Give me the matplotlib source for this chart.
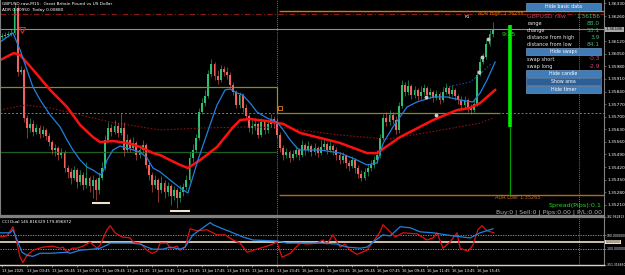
import matplotlib
matplotlib.use("Agg")
import matplotlib.pyplot as plt
from matplotlib.patches import Rectangle

W, H = 625, 275

# GBPUSD.raw M15 bars, 13 Jun 01:45 -> 16 Jun 17:00
first_open = 1.36143
closes = [1.36149, 1.36154, 1.36160, 1.36166, 1.36305, 1.35949, 1.35960, 1.35693, 1.35637, 1.35660,
          1.35615, 1.35637, 1.35604, 1.35626, 1.35593, 1.35559, 1.35515, 1.35526, 1.35487, 1.35504,
          1.35415, 1.35393, 1.35359, 1.35404, 1.35337, 1.35376, 1.35320, 1.35359, 1.35315, 1.35348,
          1.35293, 1.35359, 1.35415, 1.35571, 1.35637, 1.35615, 1.35648, 1.35610, 1.35637, 1.35515,
          1.35571, 1.35526, 1.35554, 1.35487, 1.35515, 1.35543, 1.35432, 1.35376, 1.35320, 1.35348,
          1.35293, 1.35332, 1.35281, 1.35315, 1.35259, 1.35293, 1.35248, 1.35281, 1.35309, 1.35348,
          1.35471, 1.35515, 1.35582, 1.35726, 1.35776, 1.35815, 1.35938, 1.35993, 1.35926, 1.35904,
          1.35965, 1.35949, 1.35932, 1.35876, 1.35837, 1.35765, 1.35821, 1.35749, 1.35704, 1.35637,
          1.35648, 1.35660, 1.35598, 1.35671, 1.35626, 1.35660, 1.35687, 1.35671, 1.35598, 1.35526,
          1.35487, 1.35504, 1.35471, 1.35493, 1.35515, 1.35487, 1.35543, 1.35515, 1.35537, 1.35504,
          1.35526, 1.35498, 1.35532, 1.35548, 1.35515, 1.35537, 1.35515, 1.35487, 1.35459, 1.35482,
          1.35443, 1.35426, 1.35459, 1.35415, 1.35382, 1.35359, 1.35393, 1.35415, 1.35432, 1.35459,
          1.35487, 1.35582, 1.35693, 1.35671, 1.35710, 1.35682, 1.35626, 1.35760, 1.35876, 1.35837,
          1.35871, 1.35821, 1.35849, 1.35815, 1.35837, 1.35860, 1.35821, 1.35837, 1.35804, 1.35826,
          1.35793, 1.35837, 1.35860, 1.35826, 1.35849, 1.35815, 1.35793, 1.35765, 1.35793, 1.35749,
          1.35737, 1.35771, 1.35932, 1.36004, 1.36032, 1.36104, 1.36160, 1.36186]
highs = [1.36166, 1.36171, 1.36177, 1.36188, 1.36332, 1.36321, 1.35982, 1.35971, 1.35710, 1.35693,
         1.35682, 1.35660, 1.35654, 1.35648, 1.35637, 1.35610, 1.35571, 1.35548, 1.35537, 1.35526,
         1.35515, 1.35432, 1.35415, 1.35426, 1.35415, 1.35404, 1.35393, 1.35448, 1.35370, 1.35376,
         1.35359, 1.35393, 1.35448, 1.35598, 1.35671, 1.35660, 1.35682, 1.35665, 1.35721, 1.35671,
         1.35604, 1.35582, 1.35587, 1.35565, 1.35543, 1.35571, 1.35554, 1.35448, 1.35393, 1.35376,
         1.35359, 1.35370, 1.35348, 1.35337, 1.35326, 1.35315, 1.35304, 1.35320, 1.35332, 1.35376,
         1.35504, 1.35548, 1.35604, 1.35749, 1.35804, 1.35849, 1.35960, 1.36021, 1.36004, 1.35960,
         1.35988, 1.35982, 1.35976, 1.35949, 1.35893, 1.35849, 1.35837, 1.35832, 1.35771, 1.35715,
         1.35682, 1.35693, 1.35671, 1.35693, 1.35682, 1.35687, 1.35715, 1.35704, 1.35693, 1.35615,
         1.35543, 1.35526, 1.35515, 1.35515, 1.35537, 1.35526, 1.35571, 1.35554, 1.35565, 1.35548,
         1.35554, 1.35537, 1.35571, 1.35582, 1.35559, 1.35565, 1.35548, 1.35532, 1.35504, 1.35504,
         1.35493, 1.35459, 1.35482, 1.35471, 1.35432, 1.35404, 1.35415, 1.35437, 1.35459, 1.35482,
         1.35515, 1.35604, 1.35715, 1.35726, 1.35737, 1.35726, 1.35704, 1.35782, 1.35904, 1.35893,
         1.35904, 1.35882, 1.35871, 1.35860, 1.35871, 1.35882, 1.35871, 1.35860, 1.35849, 1.35849,
         1.35837, 1.35860, 1.35888, 1.35871, 1.35876, 1.35860, 1.35826, 1.35815, 1.35815, 1.35804,
         1.35771, 1.35793, 1.35960, 1.36027, 1.36054, 1.36127, 1.36182, 1.36225]
lows = [1.36132, 1.36138, 1.36143, 1.36149, 1.36154, 1.35926, 1.35938, 1.35671, 1.35582, 1.35615,
        1.35593, 1.35604, 1.35582, 1.35587, 1.35571, 1.35537, 1.35493, 1.35482, 1.35459, 1.35471,
        1.35393, 1.35359, 1.35326, 1.35348, 1.35304, 1.35320, 1.35293, 1.35304, 1.35281, 1.35248,
        1.35237, 1.35270, 1.35348, 1.35404, 1.35559, 1.35593, 1.35604, 1.35587, 1.35598, 1.35482,
        1.35504, 1.35504, 1.35515, 1.35459, 1.35471, 1.35498, 1.35415, 1.35348, 1.35281, 1.35304,
        1.35226, 1.35276, 1.35248, 1.35259, 1.35209, 1.35237, 1.35193, 1.35226, 1.35259, 1.35293,
        1.35337, 1.35448, 1.35504, 1.35571, 1.35715, 1.35760, 1.35804, 1.35921, 1.35904, 1.35882,
        1.35893, 1.35926, 1.35910, 1.35860, 1.35821, 1.35749, 1.35749, 1.35726, 1.35682, 1.35615,
        1.35604, 1.35626, 1.35582, 1.35587, 1.35604, 1.35610, 1.35643, 1.35637, 1.35582, 1.35504,
        1.35459, 1.35471, 1.35448, 1.35459, 1.35476, 1.35459, 1.35476, 1.35487, 1.35504, 1.35482,
        1.35487, 1.35476, 1.35487, 1.35515, 1.35493, 1.35504, 1.35487, 1.35459, 1.35437, 1.35443,
        1.35415, 1.35398, 1.35415, 1.35387, 1.35359, 1.35345, 1.35348, 1.35370, 1.35398, 1.35415,
        1.35443, 1.35471, 1.35571, 1.35648, 1.35654, 1.35660, 1.35604, 1.35610, 1.35749, 1.35815,
        1.35821, 1.35799, 1.35804, 1.35793, 1.35799, 1.35821, 1.35799, 1.35804, 1.35782, 1.35793,
        1.35771, 1.35782, 1.35826, 1.35804, 1.35815, 1.35793, 1.35771, 1.35737, 1.35749, 1.35726,
        1.35715, 1.35726, 1.35760, 1.35926, 1.35993, 1.36021, 1.36093, 1.36143]
opens = [first_open] + closes[:-1]

# moving averages (bar position, price)
fast_ma_x = [-0.6, 3.5, 5.8, 8.0, 9.9, 12.2, 15.4, 18.6, 20.8, 22.7, 25.0, 27.2, 29.1, 31.4, 32.3,
             33.6, 35.5, 37.8, 40.0, 42.0, 44.2, 46.4, 48.3, 50.6, 53.8, 57.0, 59.5, 62.7, 66.0,
             68.8, 71.4, 73.0, 75.2, 77.0, 79.4, 81.6, 84.8, 88.0, 90.0, 92.2, 94.4, 95.4, 101.8,
             108.2, 113.6, 116.8, 120.0, 122.0, 125.1, 129.6, 132.8, 138.0, 142.4, 146.6, 150.7,
             153.0, 155.2, 157.8]
fast_ma = [1.36115, 1.36166, 1.36071, 1.35960, 1.35865, 1.35793, 1.35710, 1.35643, 1.35571, 1.35515,
           1.35459, 1.35420, 1.35404, 1.35376, 1.35393, 1.35459, 1.35515, 1.35537, 1.35526, 1.35515,
           1.35504, 1.35471, 1.35415, 1.35393, 1.35348, 1.35304, 1.35276, 1.35459, 1.35626, 1.35765,
           1.35849, 1.35854, 1.35832, 1.35821, 1.35776, 1.35726, 1.35693, 1.35671, 1.35626, 1.35571,
           1.35526, 1.35515, 1.35515, 1.35498, 1.35459, 1.35432, 1.35443, 1.35554, 1.35643, 1.35754,
           1.35782, 1.35810, 1.35810, 1.35793, 1.35782, 1.35832, 1.35904, 1.36004]
mid_ma_x = [-0.6, 3.8, 5.8, 10.0, 15.4, 20.8, 25.0, 29.1, 31.4, 35.5, 40.0, 44.2, 48.3, 50.6, 53.8,
            57.0, 59.5, 63.4, 68.8, 74.0, 76.2, 79.4, 84.8, 90.0, 95.4, 108.2, 116.8, 120.0, 127.4,
            138.0, 145.6, 149.8, 153.0, 157.8]
mid_ma = [1.36015, 1.36054, 1.36043, 1.35960, 1.35849, 1.35754, 1.35654, 1.35587, 1.35559, 1.35565,
          1.35554, 1.35532, 1.35498, 1.35487, 1.35459, 1.35432, 1.35415, 1.35459, 1.35532, 1.35643,
          1.35682, 1.35687, 1.35676, 1.35660, 1.35610, 1.35554, 1.35498, 1.35498, 1.35587, 1.35682,
          1.35737, 1.35749, 1.35776, 1.35849]
slow_ma_x = [-0.6, 7.4, 15.4, 25.0, 34.6, 50.6, 63.4, 79.4, 92.2, 95.4, 108.2, 123.2, 137.0, 153.0, 157.1]
slow_ma = [1.35737, 1.35765, 1.35749, 1.35710, 1.35671, 1.35626, 1.35637, 1.35643, 1.35637, 1.35626,
           1.35598, 1.35576, 1.35615, 1.35665, 1.35693]
band_x = [141.1, 149.8, 153.0, 156.8]
band = [1.35860, 1.35893, 1.35938, 1.35999]

# CCI Dual
cci_fast_x = [-0.6, 2.6, 3.5, 4.8, 6.4, 8.0, 9.9, 12.2, 15.4, 20.8, 21.8, 25.0, 29.1, 31.4, 33.6,
              34.6, 41.0, 44.2, 46.4, 48.3, 51.5, 53.8, 57.0, 58.6, 61.1, 63.4, 66.6, 67.5, 69.8,
              73.9, 77.1, 80.3, 88.0, 91.2, 95.4, 101.8, 107.2, 110.4, 114.6, 116.8, 118.7, 121.9,
              124.2, 127.4, 130.6, 133.8, 137.9, 144.3, 149.8, 153.0, 157.1]
cci_fast = [141, 141, 188, 31, -156, -203, -219, -172, -172, -156, -172, -125, -109, -94, -47,
            -16, -16, -31, -78, -109, -109, -78, -109, -78, 109, 188, 297, 266, 219, 141,
            78, 31, 16, -16, -16, -16, -31, -78, -94, -78, 0, 109, 94, 234, 219, 156, 141, 94, 63,
            141, 203]
cci_slow_x = [-0.6, 1.6, 3.5, 4.8, 5.8, 6.7, 8.0, 9.9, 13.1, 16.3, 18.6, 19.5, 20.8, 22.4, 24.0,
              25.9, 28.2, 30.4, 31.4, 33.6, 34.6, 36.2, 38.4, 41.0, 42.0, 44.2, 46.4, 48.0, 49.6,
              50.6, 52.8, 53.8, 56.0, 57.0, 58.6, 60.2, 62.4, 65.6, 68.8, 71.4, 73.9, 76.2, 78.4,
              81.6, 85.8, 88.0, 89.6, 92.2, 95.4, 97.6, 100.8, 102.7, 104.0, 105.9, 108.2, 109.8,
              111.4, 113.6, 116.8, 118.7, 121.0, 121.9, 124.2, 125.8, 128.3, 132.8, 136.0, 137.9,
              139.2, 141.1, 143.4, 145.6, 146.6, 149.1, 150.7, 152.3, 153.6, 155.2, 157.4]
cci_slow = [78, 94, 234, -16, -234, -313, -203, -125, -78, -63, -94, -78, -156, -94, -94, -63, 0,
            -94, -47, 188, 250, 141, 78, 63, 0, -16, -125, -172, -141, -16, -16, -94, -63, -125,
            -78, 203, 172, 188, 109, 109, 31, -16, -156, -109, -47, 0, -234, -172, -16, -31, -16,
            31, -31, 109, -78, -31, -125, -188, -125, 0, 156, 266, 156, 78, 141, 125, 31, 63, 141,
            -94, 0, 141, -94, -141, -47, 188, 250, 172, 141]

# price scale labels (1.36190 sits under the bid box)
price_ticks = [1.35210, 1.35280, 1.35350, 1.35420, 1.35490, 1.35560, 1.35630, 1.35700, 1.35770,
               1.35840, 1.35910, 1.35980, 1.36050, 1.36120, 1.36260, 1.36330]
cci_ticks = [382.96, 100, -100, -351.3]
cci_tick_labels = ["382.962813", "100.000000", "-100.000000", "-351.316850"]
time_ticks = [0, 8, 16, 24, 32, 40, 48, 56, 64, 72, 80, 88, 96, 104, 112, 120, 128, 136, 144, 152]
time_labels = ["13 Jun 2025", "13 Jun 03:45", "13 Jun 05:45", "13 Jun 07:45", "13 Jun 09:45",
               "13 Jun 11:45", "13 Jun 13:45", "13 Jun 15:45", "13 Jun 17:45", "13 Jun 19:45",
               "13 Jun 21:45", "13 Jun 23:45", "16 Jun 01:45", "16 Jun 03:45", "16 Jun 05:45",
               "16 Jun 07:45", "16 Jun 09:45", "16 Jun 11:45", "16 Jun 13:45", "16 Jun 15:45"]

bid = 1.36186
adr_high, adr_low = 1.36288, 1.35265

plt.rcParams['font.family'] = 'DejaVu Sans'
fig = plt.figure(figsize=(W / 100, H / 100), dpi=100, facecolor='black')
ax = fig.add_axes([0, 1 - 216 / H, 604 / W, 216 / H], facecolor='black')
axc = fig.add_axes([0, 1 - 265 / H, 604 / W, 48 / H], facecolor='black')
XL = (-0.64, 192.64)

# ---- main price panel
ax.axhline(1.36271, color='#8b1a1a', lw=0.8, ls=(0, (5, 2, 1, 2)))
ax.axhline(bid, color='#8c8c8c', lw=0.8)
ax.hlines(adr_high, 88.5, XL[1], color='#e07800', lw=1.0)
ax.hlines(adr_low, 88.5, XL[1], color='#b86a10', lw=1.0)
ax.axhline(1.35721, color='#8a8a1a', lw=0.7, ls=(0, (2, 2)))
ax.hlines(1.35865, XL[0], 88, color='#8a8a1a', lw=0.9)
ax.vlines(88, 1.35721, 1.35865, color='#8a8a1a', lw=0.9)
ax.hlines(1.35721, 88, 159.5, color='#8a8a1a', lw=0.9)
ax.hlines(1.35504, XL[0], 88, color='#1f5f1f', lw=0.9)
for a in (ax, axc):
    a.axvline(88, color='#9a9a9a', lw=0.6, ls=(0, (1, 1.5)))
    a.axvline(184.6, color='#9a9a9a', lw=0.6, ls=(0, (1, 1.5)))

ax.plot(slow_ma_x, slow_ma, color='#8b1010', lw=0.8, ls=(0, (1.5, 1.5)))
ax.plot(band_x, band, color='#1f3f8f', lw=0.8, ls=(0, (1.5, 1.5)))

bull, bear = '#2fbf71', '#f0625d'
xs = list(range(len(closes)))
colors = [bull if c >= o else bear for o, c in zip(opens, closes)]
ax.vlines(xs, lows, highs, colors=colors, lw=0.5, alpha=0.8)
bottoms = [min(o, c) for o, c in zip(opens, closes)]
heights = [max(abs(c - o), 0.00003) for o, c in zip(opens, closes)]
ax.bar(xs, heights, bottom=bottoms, width=0.62, color=colors, lw=0)

ax.plot(mid_ma_x, mid_ma, color='#ff1010', lw=1.8)
ax.plot(fast_ma_x, fast_ma, color='#2080e0', lw=0.9)

ax.vlines(162.6, 1.35643, 1.36210, color='#00ee00', lw=2.6)
ax.vlines(162.6, adr_low, 1.35643, color='#00a000', lw=0.8)

ax.hlines([1.35220, 1.35176], [28.8, 53.8], [34.6, 60.2], color='#f0e0d0', lw=1.5)
ax.plot(6.4, 1.36180, marker='v', ms=4, mfc='none', mec='#d03030', mew=0.7)
ax.plot(89.0, 1.35749, marker='s', ms=2.5, mfc='none', mec='#e08020', mew=0.6)
ax.plot([155.5, 153.6, 152.6, 135.7, 138.9], [1.36132, 1.36032, 1.35949, 1.35810, 1.35710],
        ls='none', marker='o', ms=1.8, color='#c8c8c8')

ax.set_xlim(*XL)
ax.set_ylim(1.35148, 1.36349)
ax.set_xticks([])
ax.yaxis.tick_right()
ax.set_yticks(price_ticks)
ax.set_yticklabels([f"{v:.5f}" for v in price_ticks])
ax.tick_params(axis='y', labelsize=3.1, labelcolor='white', color='#808080', length=1.5, width=0.5, pad=0.8)
for s in ('left', 'right'):
    ax.spines[s].set_color('#808080')
    ax.spines[s].set_linewidth(0.8)
ax.spines['top'].set_visible(False)
ax.spines['bottom'].set_color('#808080')
ax.spines['bottom'].set_linewidth(1.6)
ax.annotate(f"{bid:.5f}", xy=(1.0, bid), xycoords=('axes fraction', 'data'), xytext=(1.2, 0),
            textcoords='offset points', va='center', ha='left', fontsize=3.1, color='black',
            bbox=dict(boxstyle='square,pad=0.15', fc='#a8a8a8', ec='none'), annotation_clip=False)

# ---- CCI panel
axc.axhline(100, color='#a0a0a0', lw=0.6, ls=(0, (1.5, 1.5)))
axc.axhline(-100, color='#a0a0a0', lw=0.6, ls=(0, (1.5, 1.5)))
axc.axhline(0, color='#f3e2c6', lw=1.2)
axc.plot(cci_slow_x, cci_slow, color='#e01010', lw=0.9)
axc.plot(cci_fast_x, cci_fast, color='#2080e0', lw=0.9)
axc.set_xlim(*XL)
axc.set_ylim(-351.3, 382.96)
axc.yaxis.tick_right()
axc.set_yticks(cci_ticks)
axc.set_yticklabels(cci_tick_labels)
axc.tick_params(axis='y', labelsize=2.2, labelcolor='white', color='#808080', length=1.2, width=0.5, pad=0.5)
axc.set_xticks(time_ticks)
axc.set_xticklabels(time_labels)
axc.tick_params(axis='x', labelsize=2.6, labelcolor='white', color='#a0a0a0', length=1.5, width=0.5, pad=1.5)
for lbl in axc.get_xticklabels():
    lbl.set_ha('left')
axc.spines['top'].set_color('#808080')
axc.spines['top'].set_linewidth(1.6)
axc.spines['right'].set_color('#808080')
axc.spines['left'].set_visible(False)
axc.spines['bottom'].set_color('#e0d0c0')
axc.spines['bottom'].set_linewidth(1.0)
axc.annotate("0.000000", xy=(1.0, 0), xycoords=('axes fraction', 'data'), xytext=(1.2, 0),
             textcoords='offset points', va='center', ha='left', fontsize=2.2, color='black',
             bbox=dict(boxstyle='square,pad=0.15', fc='#f3e2c6', ec='none'), annotation_clip=False)


def ftext(x, y, s, **kw):
    kw.setdefault('va', 'center')
    return fig.text(x / W, 1 - y / H, s, **kw)


def button(y0, y1, label, fc):
    fig.add_artist(Rectangle((526 / W, 1 - y1 / H), 75 / W, (y1 - y0) / H, transform=fig.transFigure,
                             fc=fc, ec='#86acd6', lw=0.4, zorder=5))
    ftext(563.5, (y0 + y1) / 2, label, ha='center', color='white', fontsize=3.4, zorder=6)


ftext(2, 4, "GBPUSD.raw,M15:  Great Britain Pound vs US Dollar", color='white', fontsize=3.1)
ftext(2, 10.5, "ADR 0.00950  Today 0.00880", color='white', fontsize=3.1)
ftext(2, 222, "CCI Dual 145.816329 179.896872", color='white', fontsize=3.0)
ftext(524, 13.5, "ADR High: 1.36288", color='#e07800', fontsize=3.4, ha='right')
ftext(495, 197.5, "ADR Low: 1.35265", color='#c07020', fontsize=3.6)
ftext(465, 17, "R1", color='white', fontsize=3.0)
ftext(502, 35, "9:25", color='#22dd22', fontsize=4.6)

button(3.5, 10.5, "Hide basic data", '#3f7cb8')
ftext(527, 16.5, "GBPUSD raw", color='#c0405a', fontsize=4.4)
ftext(600, 16.5, f"{bid:.5f}", color='#3cb371', fontsize=4.2, ha='right')
rows = [("range", "88.0"), ("change", "53.1"), ("distance from high", "3.9"), ("distance from low", "84.1")]
for k, (name, val) in enumerate(rows):
    ftext(527, 23.5 + 7 * k, name, color='#e8e8e8', fontsize=3.6)
    ftext(600, 23.5 + 7 * k, val, color='#3cb371', fontsize=4.2, ha='right')
button(48, 55, "Hide swaps", '#3f7cb8')
ftext(527, 59, "swap short", color='#e8e8e8', fontsize=3.6)
ftext(600, 59, "-0.3", color='#d04070', fontsize=4.2, ha='right')
ftext(527, 66.5, "swap long", color='#e8e8e8', fontsize=3.6)
ftext(600, 66.5, "-2.9", color='#d04070', fontsize=4.2, ha='right')
button(70, 77, "Hide candle", '#3f7cb8')
button(78, 85, "Show area", '#2b5f96')
button(86, 93, "Hide timer", '#3f7cb8')

ftext(602, 205, "Spread(Pips):0.1", color='#22dd22', fontsize=4.6, ha='right')
ftext(602, 212.5, "Buy:0 | Sell:0 | Pips:0.00 | P/L:0.00", color='#b4b4b4', fontsize=4.4, ha='right')

fig.savefig("out.png", dpi=100, facecolor='black')
